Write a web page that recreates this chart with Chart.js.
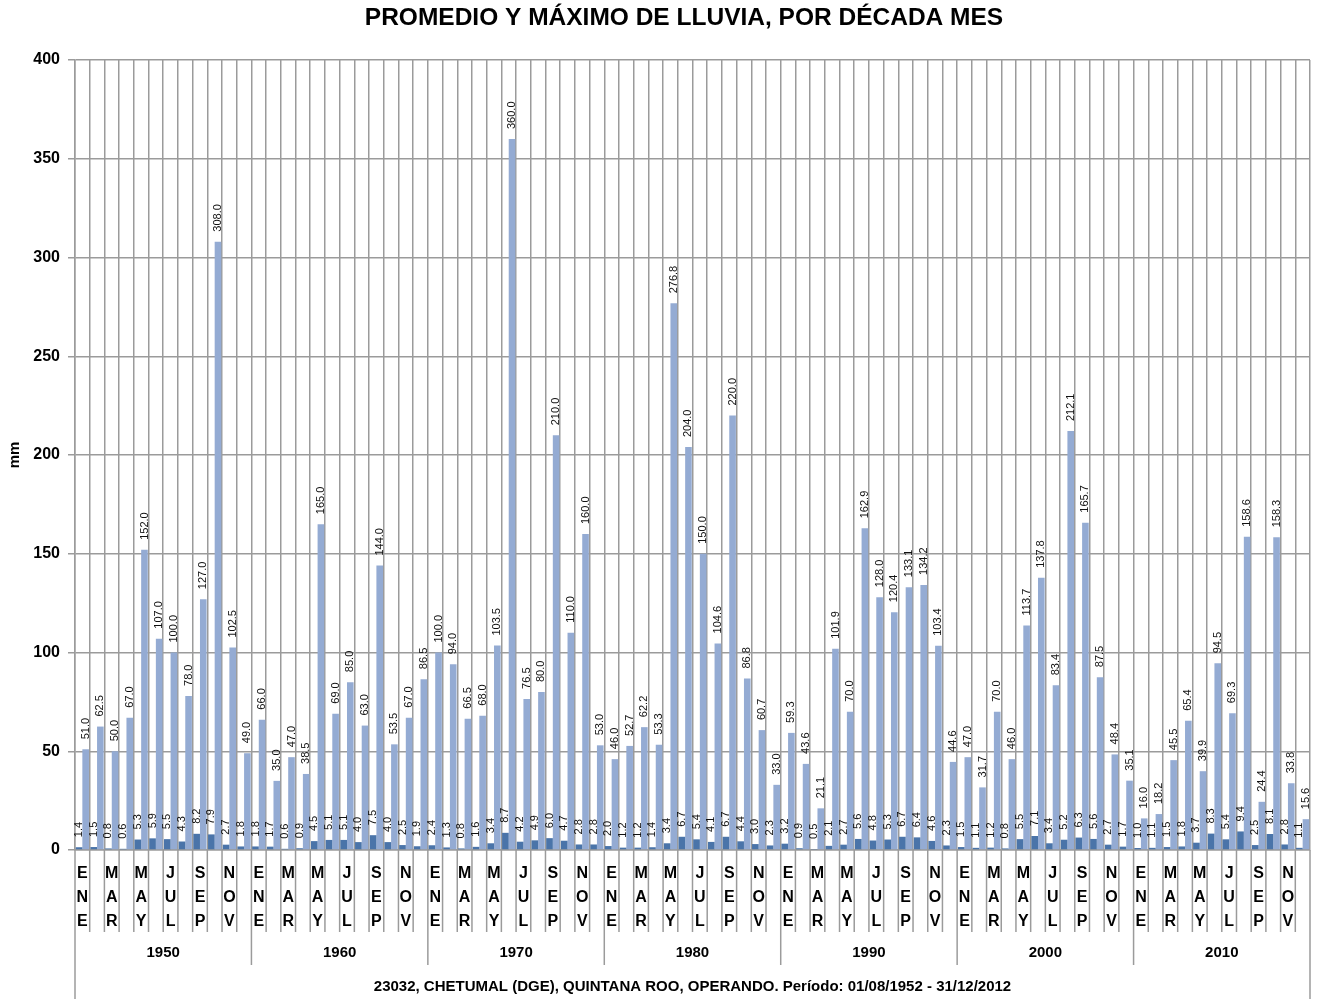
<!DOCTYPE html>
<html><head><meta charset="utf-8">
<script src="https://cdn.jsdelivr.net/npm/chart.js@4.4.1/dist/chart.umd.min.js"></script>
<style>html,body{margin:0;padding:0;background:#fff}#wrap{width:1323px;height:999px}</style>
</head><body><div id="wrap"><canvas id="c" width="1323" height="999"></canvas></div>
<script>
const decades = ['1950','1960','1970','1980','1990','2000','2010'];
const monthLabels = [['E','N','E'],[],['M','A','R'],[],['M','A','Y'],[],['J','U','L'],[],['S','E','P'],[],['N','O','V'],[]];

const max1950 = [51.0, 62.5, 50.0, 67.0, 152.0, 107.0, 100.0, 78.0, 127.0, 308.0, 102.5, 49.0];
const avg1950 = [1.4, 1.5, 0.8, 0.6, 5.3, 5.9, 5.5, 4.3, 8.2, 7.9, 2.7, 1.8];
const max1960 = [66.0, 35.0, 47.0, 38.5, 165.0, 69.0, 85.0, 63.0, 144.0, 53.5, 67.0, 86.5];
const avg1960 = [1.8, 1.7, 0.6, 0.9, 4.5, 5.1, 5.1, 4.0, 7.5, 4.0, 2.5, 1.9];
const max1970 = [100.0, 94.0, 66.5, 68.0, 103.5, 360.0, 76.5, 80.0, 210.0, 110.0, 160.0, 53.0];
const avg1970 = [2.4, 1.3, 0.8, 1.6, 3.4, 8.7, 4.2, 4.9, 6.0, 4.7, 2.8, 2.8];
const max1980 = [46.0, 52.7, 62.2, 53.3, 276.8, 204.0, 150.0, 104.6, 220.0, 86.8, 60.7, 33.0];
const avg1980 = [2.0, 1.2, 1.2, 1.4, 3.4, 6.7, 5.4, 4.1, 6.7, 4.4, 3.0, 2.3];
const max1990 = [59.3, 43.6, 21.1, 101.9, 70.0, 162.9, 128.0, 120.4, 133.1, 134.2, 103.4, 44.6];
const avg1990 = [3.2, 0.9, 0.5, 2.1, 2.7, 5.6, 4.8, 5.3, 6.7, 6.4, 4.6, 2.3];
const max2000 = [47.0, 31.7, 70.0, 46.0, 113.7, 137.8, 83.4, 212.1, 165.7, 87.5, 48.4, 35.1];
const avg2000 = [1.5, 1.1, 1.2, 0.8, 5.5, 7.1, 3.4, 5.2, 6.3, 5.6, 2.7, 1.7];
const max2010 = [16.0, 18.2, 45.5, 65.4, 39.9, 94.5, 69.3, 158.6, 24.4, 158.3, 33.8, 15.6];
const avg2010 = [1.0, 1.1, 1.5, 1.8, 3.7, 8.3, 5.4, 9.4, 2.5, 8.1, 2.8, 1.1];

const yTicks = [0, 50, 100, 150, 200, 250, 300, 350, 400];
const chartTitle = 'PROMEDIO Y MÁXIMO DE LLUVIA, POR DÉCADA MES';
const caption = '23032, CHETUMAL (DGE), QUINTANA ROO, OPERANDO. Período: 01/08/1952 - 31/12/2012';

const maxAll = [].concat(max1950, max1960, max1970, max1980, max1990, max2000, max2010);
const avgAll = [].concat(avg1950, avg1960, avg1970, avg1980, avg1990, avg2000, avg2010);
const labels = [];
decades.forEach(() => monthLabels.forEach(m => labels.push(m)));

const FONT = "'Liberation Sans', Arial, sans-serif";
const GRID = '#9b9b9b';

const valueLabels = {
  id: 'valueLabels',
  afterDatasetsDraw(chart) {
    const ctx = chart.ctx;
    ctx.save();
    ctx.fillStyle = '#111';
    ctx.font = "11px 'Liberation Sans Narrow', 'Liberation Sans', Arial, sans-serif";
    ctx.textAlign = 'left';
    ctx.textBaseline = 'middle';
    chart.data.datasets.forEach((ds, di) => {
      const meta = chart.getDatasetMeta(di);
      meta.data.forEach((el, i) => {
        ctx.save();
        ctx.translate(el.x, el.y - 10);
        ctx.rotate(-Math.PI / 2);
        ctx.fillText(ds.data[i].toFixed(1), 0, 0);
        ctx.restore();
      });
    });
    ctx.restore();
  }
};

const titleShift = {
  id: 'titleShift',
  afterLayout(chart) {
    const tb = chart.titleBlock;
    if (tb) { tb.left = 58; tb.right = 1310; tb.width = tb.right - tb.left; }
  }
};

const extLines = {
  id: 'extLines',
  afterDraw(chart) {
    const ctx = chart.ctx;
    const xs = chart.scales.x;
    const x2 = chart.scales.x2;
    const n = labels.length;
    const w = (xs.right - xs.left) / n;
    ctx.save();
    ctx.strokeStyle = GRID;
    ctx.lineWidth = 1.5;
    for (let i = 0; i <= n; i++) {
      const px = xs.left + i * w;
      let yEnd = xs.bottom;
      if (i % 12 === 0) yEnd = x2.top + 33;
      if (i === 0 || i === n) yEnd = chart.height;
      ctx.beginPath();
      ctx.moveTo(px, chart.chartArea.bottom);
      ctx.lineTo(px, yEnd);
      ctx.stroke();
    }
    ctx.restore();
  }
};

new Chart(document.getElementById('c'), {
  type: 'bar',
  data: {
    labels: labels,
    datasets: [
      { label: 'Promedio', data: avgAll, backgroundColor: '#4a74a9', categoryPercentage: 0.9, barPercentage: 1.0 },
      { label: 'Máximo', data: maxAll, backgroundColor: '#94abd3', categoryPercentage: 0.9, barPercentage: 1.0 }
    ]
  },
  options: {
    responsive: false,
    devicePixelRatio: 1,
    animation: false,
    layout: { padding: { left: 0, right: 13, top: 0, bottom: 0 } },
    plugins: {
      legend: { display: false },
      tooltip: { enabled: false },
      title: {
        display: true, text: chartTitle, color: '#000',
        font: { family: FONT, size: 24.5, weight: 'bold', lineHeight: 1.2 },
        padding: { top: 4, bottom: 26.6 }
      }
    },
    scales: {
      x: {
        type: 'category',
        offset: true,
        grid: { offset: true, color: GRID, lineWidth: 1.5, drawTicks: false },
        border: { color: GRID, width: 1.5 },
        ticks: { autoSkip: false, maxRotation: 0, minRotation: 0, padding: 12, color: '#000',
                 font: { family: FONT, size: 16, weight: 'bold', lineHeight: 1.5 } },
        afterFit: s => { s.height = 82; }
      },
      x2: {
        type: 'category',
        labels: decades,
        position: 'bottom',
        offset: true,
        grid: { display: false, drawTicks: false },
        border: { display: false },
        ticks: { padding: 12, color: '#000', font: { family: FONT, size: 15, weight: 'bold', lineHeight: 1.2 } },
        title: { display: true, text: caption, color: '#000',
                 font: { family: FONT, size: 15, weight: 'bold', lineHeight: 1.2 },
                 padding: { top: 3, bottom: 3 } },
        afterFit: s => { s.height = 67; }
      },
      y: {
        min: 0, max: 400,
        afterBuildTicks: s => { s.ticks = yTicks.map(v => ({ value: v })); },
        grid: { color: GRID, lineWidth: 1.5, tickLength: 7 },
        border: { color: GRID, width: 1.5 },
        ticks: { padding: 8, color: '#000', font: { family: FONT, size: 16, weight: 'bold' } },
        title: { display: true, text: 'mm', color: '#000',
                 font: { family: FONT, size: 15, weight: 'bold', lineHeight: 1.2 },
                 padding: { top: 6, bottom: 0 } },
        afterFit: s => { s.width = 75; }
      }
    }
  },
  plugins: [titleShift, valueLabels, extLines]
});
</script>
</body></html>
